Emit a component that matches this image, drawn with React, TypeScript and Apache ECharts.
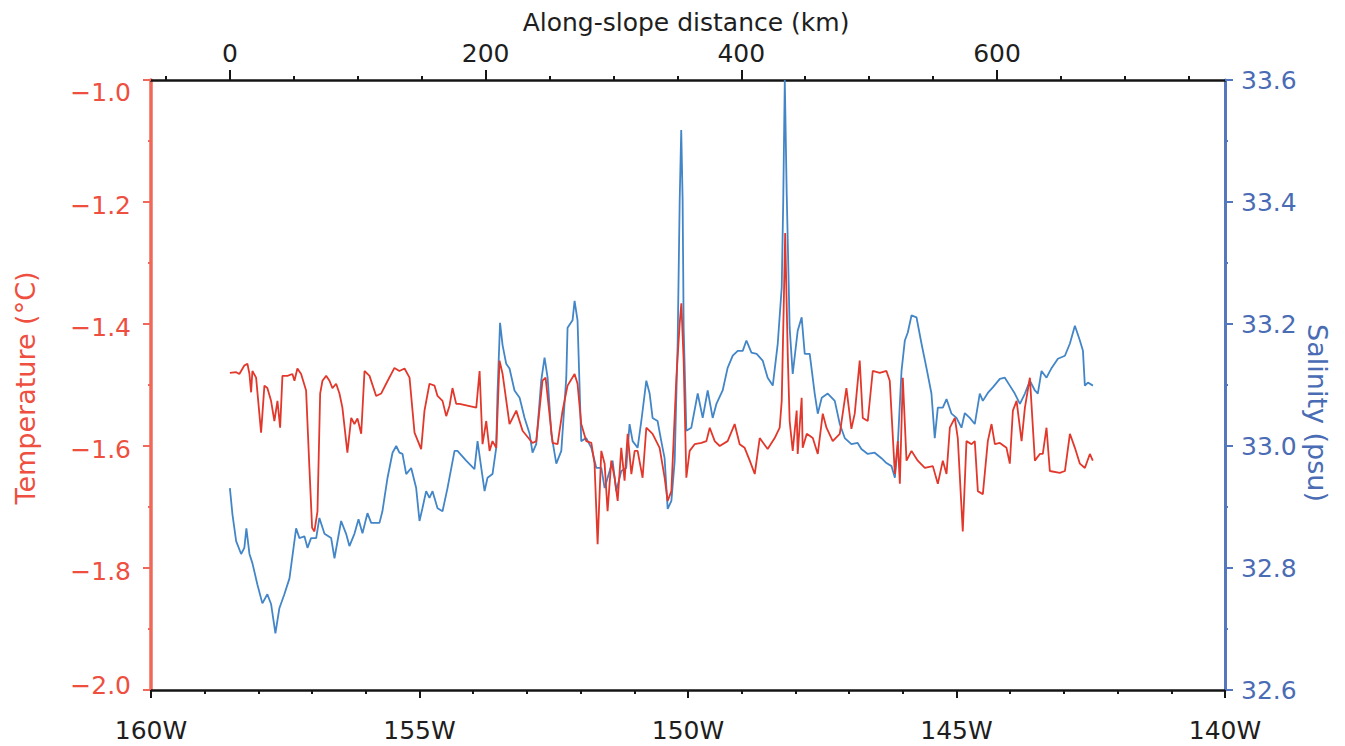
import React, { useEffect, useRef } from "react";
import * as echarts from "echarts";

// ---- axis definitions ----
const longitudeRange = [-160, -140];
const longitudeStep = 5;
const distanceRange = [-61.7, 778.3];
const distanceLabelTicks = [0, 200, 400, 600];
const distanceMinorTicks = [-50, 50, 100, 150, 250, 300, 350, 450, 500, 550, 650, 700, 750];
const temperatureRange = [-2.0, -1.0];
const salinityRange = [32.6, 33.6];
const valueStep = 0.2;

// ---- data: [along-slope distance (km), value] ----
const temperatureProfile: number[][] = [
  [0, -1.48], [4.9, -1.479], [7.4, -1.482], [11.3, -1.468], [13.7, -1.465], [15.3, -1.482], [16.6, -1.512], [17.6, -1.477],
  [20.5, -1.488], [24.4, -1.578], [27.0, -1.501], [29.3, -1.505], [32.2, -1.526], [34.8, -1.559], [37.2, -1.526], [39.3, -1.57],
  [41.1, -1.485], [45.0, -1.485], [48.9, -1.482], [50.5, -1.493], [52.8, -1.473], [55.7, -1.482], [59.6, -1.509], [62.2, -1.636],
  [64.3, -1.734], [66.1, -1.74], [68.5, -1.707], [70.6, -1.514], [72.4, -1.493], [75.3, -1.485], [77.9, -1.493], [80.2, -1.505],
  [83.1, -1.498], [85.7, -1.514], [88.0, -1.537], [91.9, -1.611], [94.9, -1.554], [97.4, -1.564], [99.8, -1.555], [102.7, -1.58],
  [105.3, -1.477], [109.2, -1.485], [114.4, -1.518], [118.3, -1.514], [122.2, -1.498], [128.7, -1.472], [132.6, -1.477], [136.6, -1.473],
  [140.5, -1.488], [144.4, -1.578], [149.6, -1.605], [152.2, -1.542], [156.1, -1.498], [160.0, -1.501], [162.4, -1.518], [166.3, -1.526],
  [169.2, -1.551], [171.8, -1.534], [174.1, -1.505], [177.0, -1.531], [179.6, -1.531], [192.7, -1.537], [195.3, -1.477], [197.6, -1.597],
  [200.5, -1.559], [203.1, -1.608], [205.4, -1.592], [208.3, -1.603], [210.9, -1.46], [213.3, -1.482], [218.7, -1.564], [224.0, -1.542],
  [228.9, -1.575], [236.7, -1.595], [239.6, -1.592], [244.5, -1.493], [246.9, -1.488], [252.4, -1.595], [256.3, -1.597], [260.2, -1.542],
  [264.1, -1.501], [269.6, -1.482], [271.9, -1.498], [274.8, -1.564], [278.7, -1.592], [282.7, -1.595], [285.2, -1.629], [287.6, -1.761],
  [290.5, -1.608], [293.1, -1.629], [295.4, -1.707], [298.3, -1.624], [300.9, -1.652], [303.3, -1.69], [306.1, -1.603], [308.7, -1.657],
  [311.1, -1.58], [314.0, -1.646], [316.6, -1.608], [318.9, -1.608], [322.8, -1.652], [325.7, -1.57], [330.6, -1.58], [336.1, -1.603],
  [340.0, -1.652], [342.4, -1.69], [345.3, -1.674], [349.2, -1.488], [351.8, -1.399], [353.1, -1.366], [354.9, -1.46], [357.0, -1.652],
  [359.6, -1.608], [363.5, -1.597], [368.8, -1.595], [372.7, -1.592], [375.3, -1.57], [379.2, -1.592], [383.1, -1.6], [389.3, -1.592],
  [394.8, -1.564], [398.7, -1.597], [402.6, -1.603], [406.6, -1.624], [410.5, -1.646], [414.4, -1.587], [420.6, -1.605], [426.1, -1.587],
  [430.0, -1.57], [431.6, -1.526], [433.1, -1.378], [434.3, -1.251], [436.3, -1.449], [437.8, -1.559], [440.2, -1.608], [443.3, -1.542],
  [444.1, -1.613], [447.2, -1.521], [448.0, -1.603], [451.2, -1.58], [455.9, -1.587], [459.8, -1.613], [463.7, -1.547], [466.6, -1.57],
  [471.5, -1.592], [477.0, -1.58], [482.2, -1.505], [486.1, -1.572], [488.7, -1.547], [492.6, -1.46], [495.0, -1.554], [498.9, -1.559],
  [502.8, -1.477], [508.3, -1.48], [513.5, -1.477], [516.1, -1.493], [517.5, -1.547], [520.1, -1.646], [522.4, -1.592], [524.0, -1.662],
  [526.3, -1.488], [529.2, -1.624], [533.1, -1.608], [538.0, -1.624], [543.5, -1.636], [549.8, -1.633], [553.7, -1.662], [557.6, -1.624],
  [560.5, -1.646], [563.1, -1.57], [567.0, -1.554], [569.3, -1.587], [573.2, -1.74], [576.1, -1.592], [580.1, -1.597], [582.6, -1.592],
  [585.0, -1.674], [588.9, -1.679], [592.8, -1.592], [595.7, -1.564], [598.3, -1.597], [602.2, -1.595], [607.4, -1.603], [610.0, -1.629],
  [612.4, -1.542], [615.3, -1.526], [619.2, -1.592], [621.8, -1.537], [625.7, -1.488], [629.6, -1.624], [633.5, -1.613], [635.8, -1.613],
  [638.7, -1.57], [641.3, -1.641], [649.1, -1.644], [653.1, -1.641], [657.0, -1.58], [660.9, -1.603], [664.8, -1.629], [668.7, -1.636],
  [672.6, -1.613], [674.9, -1.624],
];

const salinityProfile: number[][] = [
  [0, 32.931], [2.0, 32.888], [4.9, 32.844], [8.8, 32.823], [11.3, 32.833], [12.9, 32.865], [15.3, 32.823], [17.6, 32.808],
  [21.5, 32.773], [25.4, 32.742], [29.3, 32.757], [32.2, 32.741], [35.6, 32.693], [38.7, 32.734], [42.6, 32.757], [46.6, 32.783],
  [51.8, 32.865], [54.4, 32.849], [58.3, 32.852], [60.7, 32.833], [63.5, 32.849], [67.5, 32.849], [70.0, 32.882], [74.0, 32.856],
  [79.2, 32.849], [81.8, 32.816], [87.0, 32.877], [90.9, 32.856], [93.5, 32.836], [97.4, 32.856], [100.6, 32.88], [103.7, 32.857],
  [107.6, 32.89], [110.5, 32.874], [117.0, 32.874], [119.3, 32.893], [123.3, 32.948], [127.2, 32.989], [130.1, 33.0], [132.6, 32.989],
  [135.0, 32.987], [137.9, 32.954], [141.8, 32.964], [145.7, 32.931], [148.3, 32.877], [150.6, 32.898], [153.5, 32.926], [156.1, 32.915],
  [158.5, 32.926], [162.4, 32.898], [166.3, 32.893], [170.2, 32.931], [175.7, 32.992], [178.0, 32.992], [184.8, 32.976], [191.3, 32.962],
  [193.7, 33.008], [196.6, 32.964], [199.2, 32.926], [201.5, 32.948], [205.4, 32.954], [208.3, 32.997], [209.3, 33.086], [211.3, 33.202],
  [213.3, 33.165], [216.1, 33.135], [218.7, 33.127], [222.6, 33.091], [226.6, 33.079], [230.5, 33.046], [234.4, 33.02], [236.7, 32.989],
  [239.6, 33.003], [243.5, 33.107], [246.1, 33.145], [248.5, 33.112], [251.4, 33.02], [255.3, 32.971], [259.2, 32.992], [263.1, 33.112],
  [264.1, 33.194], [268.0, 33.206], [269.6, 33.238], [271.9, 33.206], [274.8, 33.008], [278.7, 33.013], [282.7, 32.997], [286.6, 32.964],
  [290.5, 32.964], [293.1, 32.931], [297.0, 32.959], [299.3, 32.976], [302.2, 32.926], [306.1, 32.959], [310.0, 32.964], [312.6, 33.036],
  [315.0, 33.008], [318.9, 32.997], [321.8, 33.041], [325.7, 33.107], [328.3, 33.086], [330.6, 33.046], [334.5, 33.041], [337.4, 33.008],
  [340.0, 32.98], [342.4, 32.897], [345.3, 32.91], [347.9, 32.976], [350.2, 33.168], [351.8, 33.403], [353.0, 33.518], [354.1, 33.403],
  [354.9, 33.194], [357.0, 33.025], [360.9, 33.03], [365.9, 33.086], [369.8, 33.046], [373.7, 33.091], [377.6, 33.046], [380.5, 33.069],
  [385.4, 33.091], [389.3, 33.128], [393.3, 33.148], [397.2, 33.156], [401.1, 33.156], [404.0, 33.173], [407.9, 33.153], [412.0, 33.151],
  [416.7, 33.14], [420.6, 33.112], [424.6, 33.099], [428.5, 33.168], [431.6, 33.26], [432.8, 33.403], [434.0, 33.6], [435.5, 33.414],
  [437.8, 33.194], [440.2, 33.118], [444.1, 33.189], [447.2, 33.211], [449.6, 33.151], [453.5, 33.151], [457.4, 33.086], [459.8, 33.053],
  [462.9, 33.079], [467.6, 33.086], [473.1, 33.074], [477.0, 33.036], [480.9, 33.013], [486.1, 33.003], [491.0, 33.005], [493.9, 32.995],
  [498.9, 32.987], [504.3, 32.989], [509.6, 32.98], [513.5, 32.972], [517.5, 32.967], [520.1, 32.948], [522.4, 33.003], [525.3, 33.123],
  [527.9, 33.173], [530.2, 33.186], [533.1, 33.214], [537.0, 33.211], [540.9, 33.168], [544.8, 33.128], [548.7, 33.086], [551.3, 33.013],
  [553.7, 33.063], [557.6, 33.063], [560.5, 33.077], [564.4, 33.053], [568.3, 33.046], [572.2, 33.03], [574.8, 33.054], [578.7, 33.046],
  [582.6, 33.036], [586.5, 33.086], [588.9, 33.074], [592.8, 33.087], [596.7, 33.096], [602.2, 33.11], [606.1, 33.112], [610.0, 33.099],
  [613.9, 33.086], [617.9, 33.069], [621.8, 33.086], [625.7, 33.107], [629.6, 33.091], [631.9, 33.086], [634.8, 33.123], [638.7, 33.112],
  [642.7, 33.128], [647.6, 33.143], [653.1, 33.148], [657.0, 33.168], [660.9, 33.197], [664.8, 33.173], [667.2, 33.156], [668.7, 33.099],
  [671.1, 33.104], [675.0, 33.099],
];

// ---- styles ----
const FONT = "DejaVu Sans";
const RED_AXIS = "#f0685a";
const RED_TEXT = "#ee4f40";
const BLUE_AXIS = "#5577bd";
const BLUE_TEXT = "#4a6cb4";
const RED_LINE = "#e2382c";
const BLUE_LINE = "#4386c8";
const BLACK = "#151515";

const fmtNum = (v: number) => v.toFixed(1).replace("-", "\u2212");

export default function App() {
  const ref = useRef<HTMLDivElement>(null);

  useEffect(() => {
    if (!ref.current) return;
    const chart = echarts.init(ref.current, null, { renderer: "svg" });

    const blackAxis = { show: true, onZero: false, lineStyle: { color: BLACK, width: 2.5 } };

    const option: any = {
      animation: false,
      backgroundColor: "#ffffff",
      grid: { left: 151, right: 120, top: 80, bottom: 56, containLabel: false },
      xAxis: [
        {
          type: "value",
          position: "bottom",
          min: longitudeRange[0],
          max: longitudeRange[1],
          interval: longitudeStep,
          axisLine: blackAxis,
          axisTick: { show: true, inside: false, length: 8, lineStyle: { color: BLACK, width: 2 } },
          minorTick: { show: true, splitNumber: 5, length: 4, lineStyle: { color: BLACK, width: 2 } },
          axisLabel: {
            margin: 28,
            color: "#1e1e1e",
            fontSize: 25,
            fontFamily: FONT,
            formatter: (v: number) => `${Math.abs(v)}W`,
          },
          splitLine: { show: false },
          minorSplitLine: { show: false },
        },
        {
          type: "value",
          position: "top",
          min: distanceRange[0],
          max: distanceRange[1],
          axisLine: blackAxis,
          axisTick: { show: true, inside: false, length: 10, customValues: distanceLabelTicks, lineStyle: { color: BLACK, width: 2 } },
          axisLabel: {
            show: true,
            customValues: distanceLabelTicks,
            margin: 14,
            color: "#1e1e1e",
            fontSize: 25,
            fontFamily: FONT,
          },
          splitLine: { show: false },
        },
        {
          type: "value",
          position: "top",
          min: distanceRange[0],
          max: distanceRange[1],
          axisLine: { show: false },
          axisTick: { show: true, inside: false, length: 4, customValues: distanceMinorTicks, lineStyle: { color: BLACK, width: 2 } },
          axisLabel: { show: false },
          splitLine: { show: false },
        },
      ],
      yAxis: [
        {
          type: "value",
          position: "left",
          min: temperatureRange[0],
          max: temperatureRange[1],
          interval: valueStep,
          axisLine: { show: true, onZero: false, lineStyle: { color: RED_AXIS, width: 3.5 } },
          axisTick: { show: true, inside: false, length: 8, lineStyle: { color: RED_AXIS, width: 2 } },
          minorTick: { show: true, splitNumber: 2, length: 3, lineStyle: { color: RED_AXIS, width: 2 } },
          axisLabel: {
            margin: 20,
            color: RED_TEXT,
            fontSize: 25,
            fontFamily: FONT,
            formatter: (v: number) => {
              const s = fmtNum(v);
              if (Math.abs(v - temperatureRange[1]) < 1e-6) return `{dn|${s}}`;
              if (Math.abs(v - temperatureRange[0]) < 1e-6) return `{up|${s}}`;
              return `{mid|${s}}`;
            },
            rich: {
              dn: { color: RED_TEXT, fontSize: 25, fontFamily: FONT, padding: [24, 0, 0, 0] },
              up: { color: RED_TEXT, fontSize: 25, fontFamily: FONT, padding: [0, 0, 10, 0] },
              mid: { color: RED_TEXT, fontSize: 25, fontFamily: FONT, padding: [6, 0, 0, 0] },
            },
          },
          splitLine: { show: false },
          minorSplitLine: { show: false },
        },
        {
          type: "value",
          position: "right",
          min: salinityRange[0],
          max: salinityRange[1],
          interval: valueStep,
          axisLine: { show: true, onZero: false, lineStyle: { color: BLUE_AXIS, width: 3 } },
          axisTick: { show: true, inside: false, length: 8, lineStyle: { color: BLUE_AXIS, width: 2 } },
          minorTick: { show: true, splitNumber: 2, length: 3, lineStyle: { color: BLUE_AXIS, width: 2 } },
          axisLabel: {
            margin: 16,
            color: BLUE_TEXT,
            fontSize: 25,
            fontFamily: FONT,
            formatter: (v: number) => v.toFixed(1),
          },
          splitLine: { show: false },
          minorSplitLine: { show: false },
        },
      ],
      graphic: [
        {
          type: "text",
          x: 686,
          y: 22,
          style: {
            text: "Along-slope distance (km)",
            fill: "#1e1e1e",
            font: `25px "${FONT}"`,
            align: "center",
            verticalAlign: "middle",
          },
        },
        {
          type: "text",
          x: 25,
          y: 388,
          rotation: Math.PI / 2,
          style: {
            text: "Temperature (\u00b0C)",
            fill: RED_TEXT,
            font: `27px "${FONT}"`,
            align: "center",
            verticalAlign: "middle",
          },
        },
        {
          type: "text",
          x: 1317,
          y: 413,
          rotation: -Math.PI / 2,
          style: {
            text: "Salinity (psu)",
            fill: BLUE_TEXT,
            font: `27px "${FONT}"`,
            align: "center",
            verticalAlign: "middle",
          },
        },
      ],
      series: [
        {
          type: "line",
          name: "Salinity",
          xAxisIndex: 1,
          yAxisIndex: 1,
          data: salinityProfile,
          symbol: "none",
          showSymbol: false,
          lineStyle: { color: BLUE_LINE, width: 1.8 },
          z: 2,
        },
        {
          type: "line",
          name: "Temperature",
          xAxisIndex: 1,
          yAxisIndex: 0,
          data: temperatureProfile,
          symbol: "none",
          showSymbol: false,
          lineStyle: { color: RED_LINE, width: 1.8 },
          z: 3,
        },
      ],
    };

    chart.setOption(option);
    return () => chart.dispose();
  }, []);

  return (
    <div
      ref={ref}
      style={{ position: "fixed", left: 0, top: 0, width: 1345, height: 746, background: "#fff" }}
    />
  );
}
